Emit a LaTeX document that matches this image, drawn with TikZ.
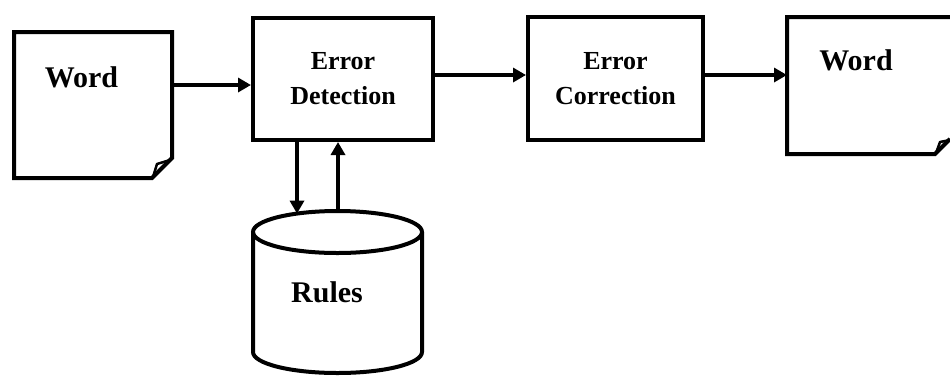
\documentclass[tikz,border=0pt]{standalone}
\usepackage{fontspec}
\setmainfont{Liberation Serif}
\usetikzlibrary{arrows.meta}
\begin{document}
\begin{tikzpicture}[x=1pt,y=-1pt,
  line width=4pt, line join=miter,
  box/.style={draw, line width=4pt, rectangle, align=center, inner sep=0pt,
    font=\fontsize{26}{35}\selectfont\bfseries},
  lbl/.style={font=\fontsize{30}{36}\selectfont\bfseries, inner sep=0pt},
  ghost/.style={rectangle, draw=none, inner sep=0pt, outer sep=0pt},
  arr/.style={-{Triangle[length=13pt,width=14pt]}, line width=3.5pt},
  ]
\useasboundingbox[fill=white] (0,0) rectangle (950,376);

% left document
\node[ghost, minimum width=158pt, minimum height=146pt] (w1) at (93,105) {};
\draw (w1.north west) -- (w1.north east) -- ([yshift=20pt]w1.south east)
  -- ([xshift=-20pt]w1.south east) -- (w1.south west) -- cycle;
\draw[line width=2.5pt, line join=round] ([xshift=-19pt,yshift=1pt]w1.south east) -- ([xshift=-15pt,yshift=14pt]w1.south east) -- ([xshift=-2pt,yshift=18pt]w1.south east);
\node[lbl] (t1) at (81.5,77) {Word};

% right document
\node[ghost, minimum width=163pt, minimum height=137pt] (w2) at (868.5,85.5) {};
\draw (w2.east |- w2.north) -- (w2.north west) -- (w2.south west)
  -- ([xshift=-15pt]w2.south east) -- ([yshift=15pt]w2.south east);
\draw[line width=2.5pt, line join=round] ([xshift=-14pt,yshift=1pt]w2.south east) -- ([xshift=-10pt,yshift=12pt]w2.south east) -- ([xshift=0pt,yshift=14pt]w2.south east);
\node[lbl] (t2) at (856,60) {Word};

% boxes
\node[box, minimum width=180pt, minimum height=122pt] (ed) at (343,79) {Error\\Detection};
\node[box, minimum width=175pt, minimum height=123pt] (ec) at (615.5,78.5) {Error\\Correction};

% cylinder
\coordinate (ctop) at (337.5,232);
\draw (253,232) -- (253,352) arc[start angle=180, end angle=0, x radius=84.5, y radius=21] -- (422,232);
\draw (ctop) ellipse [x radius=84.5, y radius=21];
\node[lbl] (rules) at (327,292) {Rules};
\coordinate (cin) at (297,213.6);
\coordinate (cout) at (338,211);

% connectors
\draw[arr] (w1.east |- 0,85) -- (ed.west |- 0,85);
\draw[arr] (ed.east |- 0,75) -- (ec.west |- 0,75);
\draw[arr] (ec.east |- 0,75) -- (w2.west |- 0,75);
\draw[arr] (ed.south -| cin) -- (cin);
\draw[arr] (cout) -- (ed.south -| cout);
\end{tikzpicture}
\end{document}
